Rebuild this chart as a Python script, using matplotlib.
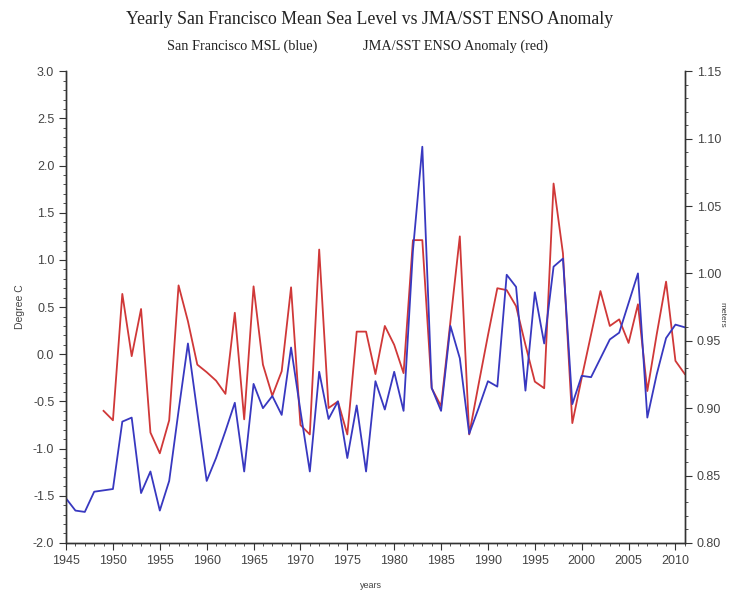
import matplotlib.pyplot as plt
import numpy as np

# ---------------------------------------------------------------
# DATA
# ---------------------------------------------------------------
years_msl = list(range(1945, 2012))
msl_m = [0.833, 0.824, 0.823, 0.838, 0.839, 0.840, 0.890, 0.893, 0.837, 0.853,
         0.824, 0.846, 0.898, 0.948, 0.897, 0.846, 0.863, 0.883, 0.904, 0.853,
         0.918, 0.900, 0.909, 0.895, 0.945, 0.898, 0.853, 0.927, 0.892, 0.905,
         0.863, 0.902, 0.853, 0.920, 0.899, 0.927, 0.898, 1.017, 1.094, 0.915,
         0.898, 0.961, 0.937, 0.881, 0.900, 0.920, 0.916, 0.999, 0.990, 0.913,
         0.986, 0.948, 1.005, 1.011, 0.903, 0.924, 0.923, 0.937, 0.951, 0.956,
         0.978, 1.000, 0.893, 0.925, 0.952, 0.962, 0.960]

years_enso = list(range(1949, 2012))
enso_c = [-0.60, -0.70, 0.64, -0.02, 0.48, -0.83, -1.05, -0.70, 0.73, 0.35,
          -0.11, -0.19, -0.28, -0.42, 0.44, -0.69, 0.72, -0.11, -0.44, -0.18,
          0.71, -0.75, -0.85, 1.11, -0.57, -0.50, -0.85, 0.24, 0.24, -0.21,
          0.30, 0.10, -0.20, 1.21, 1.21, -0.36, -0.55, 0.35, 1.25, -0.85,
          -0.32, 0.20, 0.70, 0.68, 0.51, 0.10, -0.29, -0.36, 1.81, 1.07,
          -0.73, -0.25, 0.21, 0.67, 0.30, 0.37, 0.12, 0.53, -0.39, 0.21,
          0.77, -0.07, -0.21]

# ---------------------------------------------------------------
# Plotting
# ---------------------------------------------------------------
fig = plt.figure(figsize=(7.34, 5.94), dpi=100)
ax = fig.add_axes([0.090, 0.086, 0.843, 0.794])
ax2 = ax.twinx()

tickcol = '#444444'
ax.plot(years_enso, enso_c, color='#d03838', linewidth=1.3)
ax2.plot(years_msl, msl_m, color='#3838c0', linewidth=1.3)

ax.set_xlim(1945, 2011)
ax.set_ylim(-2.0, 3.0)
ax2.set_ylim(0.80, 1.15)

ax.set_xticks(np.arange(1945, 2011, 5))
ax.set_xticks(np.arange(1945, 2012, 1), minor=True)
ax.set_yticks(np.arange(-2.0, 3.01, 0.5))
ax.set_yticks(np.arange(-2.0, 3.01, 0.1), minor=True)
ax.yaxis.set_major_formatter(plt.FormatStrFormatter('%.1f'))
ax2.set_yticks(np.arange(0.80, 1.151, 0.05))
ax2.set_yticks(np.arange(0.80, 1.151, 0.01), minor=True)
ax2.yaxis.set_major_formatter(plt.FormatStrFormatter('%.2f'))

for a in (ax, ax2):
    a.spines['top'].set_visible(False)
    for s in a.spines.values():
        s.set_color('#333333')
        s.set_linewidth(1.0)
    a.tick_params(which='major', length=5, width=0.8, color='#333333',
                  labelsize=9, labelcolor=tickcol, direction='out')
    a.tick_params(which='minor', length=2.5, width=0.6, color='#333333',
                  direction='out')
    for lab in a.get_xticklabels() + a.get_yticklabels():
        lab.set_family('Liberation Sans')

ax.set_ylabel('Degree C', fontsize=7.5, color=tickcol, labelpad=6,
              family='Liberation Sans')
fig.text(0.505, 0.006, 'years', ha='center', va='bottom', fontsize=6.5,
         color=tickcol, family='Liberation Sans')
fig.text(0.984, 0.47, 'meters', ha='center', va='center', rotation=270,
         fontsize=6, color=tickcol, family='Liberation Sans')

fig.text(0.503, 0.967, 'Yearly San Francisco Mean Sea Level vs JMA/SST ENSO Anomaly',
         ha='center', va='center', fontsize=12.8, family='Liberation Serif', color='#222222')
fig.text(0.330, 0.922, 'San Francisco MSL (blue)', ha='center', va='center',
         fontsize=10.3, family='Liberation Serif', color='#222222')
fig.text(0.620, 0.922, 'JMA/SST ENSO Anomaly (red)', ha='center', va='center',
         fontsize=10.3, family='Liberation Serif', color='#222222')

plt.savefig('out.png', dpi=100)
